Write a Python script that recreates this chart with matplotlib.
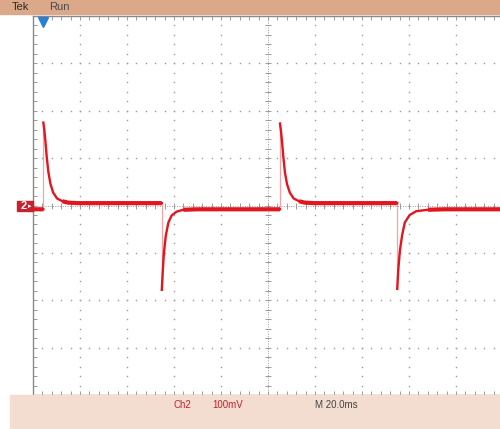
import matplotlib.pyplot as plt
from matplotlib.patches import Rectangle
import numpy as np

nan = np.nan

# scope trace, time in ms, voltage in mV (Ch2, 100 mV/div, 20 ms/div)
trace_ms = [
    0, 4.4, nan,
    4.4, 4.8, 5.3, 5.8, 6.5, 7.4, 8.6, 10.2, 12.5, 15.0, 19.0, 54.8, nan,
    54.8, 55.2, 55.7, 56.5, 57.6, 59.0, 61.1, 64.0, 70.0, 105.1, nan,
    105.1, 105.5, 106.0, 106.5, 107.2, 108.1, 109.3, 110.9, 113.2, 115.7, 119.7, 155.0, nan,
    155.0, 155.4, 156.1, 157.1, 158.2, 160.3, 163.1, 168.1, 175.0, 200.0,
]
trace_mv = [
    -8, -8, nan,
    175, 160, 135, 105, 72, 46, 27, 15, 9, 6, 5, 5, nan,
    -178, -140, -100, -64, -36, -21, -13, -9, -8, -8, nan,
    173, 158, 133, 104, 70, 45, 27, 15, 9, 6, 5, 5, nan,
    -176, -138, -96, -62, -36, -20, -12, -9, -8, -8,
]

# fast edges (drawn faint)
edge_ms = [4.4, 54.8, 105.1, 155.0]
edge_from_mv = [-8, 5, -8, 5]
edge_to_mv = [175, -178, 173, -176]

trigger_ms = 4.3

TAN = "#dba98a"
PANEL = "#f3ddd0"
GRID = "#9a9a9a"
RED = "#e2161e"

fig = plt.figure(figsize=(5, 4.29), dpi=100)
fig.patches.append(Rectangle((0, 1 - 14 / 429), 1, 14 / 429, transform=fig.transFigure,
                             color=TAN, zorder=0))
fig.patches.append(Rectangle((10 / 500, 0), 490 / 500, 34 / 429, transform=fig.transFigure,
                             color=PANEL, zorder=0))

ax = fig.add_axes([33 / 500, 34 / 429, 470 / 500, 379 / 429])
ax.set_xlim(0, 200)
ax.set_ylim(-400, 400)

for side in ["left", "bottom", "top"]:
    ax.spines[side].set_color("#8a8a8a")
    ax.spines[side].set_linewidth(1)
ax.spines["right"].set_visible(False)

ax.set_xticks(np.arange(0, 201, 4))
ax.set_yticks(np.arange(-400, 401, 20))
ax.tick_params(direction="in", length=3, width=0.7, color=GRID, top=True, right=False,
               labelbottom=False, labelleft=False)

# graticule dots
minor_x = np.arange(0, 201, 4)
minor_y = np.arange(-400, 401, 20)
for gx in range(20, 200, 20):
    if gx != 100:
        ax.plot(np.full(len(minor_y), gx), minor_y, ls="none", marker="s", ms=1.0,
                color=GRID, mew=0)
for gy in range(-300, 400, 100):
    if gy != 0:
        ax.plot(minor_x, np.full(len(minor_x), gy), ls="none", marker="s", ms=1.0,
                color=GRID, mew=0)

# center cross with ruler ticks
ax.axvline(100, color=GRID, lw=0.7, ls=(0, (1, 1.5)))
ax.axhline(0, color=GRID, lw=0.7, ls=(0, (1, 1.5)))
ax.plot(minor_x, np.zeros(len(minor_x)), ls="none", marker="|", ms=4, color=GRID, mew=0.7)
ax.plot(np.full(len(minor_y), 100), minor_y, ls="none", marker="_", ms=4, color=GRID, mew=0.7)

# trace: thin on the decays, thicker (noisy) on the settled parts
t = np.array(trace_ms)
v = np.array(trace_mv, dtype=float)
settled = np.where(np.abs(v) <= 10, v, nan)
ax.vlines(edge_ms, edge_from_mv, edge_to_mv, color="#f4a4a4", lw=0.9, zorder=3)
ax.plot(t, v, color=RED, lw=1.7, zorder=4)
ax.plot(t, settled, color=RED, lw=3.0, solid_capstyle="butt", zorder=4)

# trigger marker
ax.plot([trigger_ms], [388], marker="v", ms=7, color="#2a7fd6", clip_on=False, zorder=5)

# channel ground marker
fig.patches.append(Rectangle((17 / 500, 1 - 211 / 429), 16 / 500, 10 / 429,
                             transform=fig.transFigure, color="#c8202c", zorder=5))
fig.text(24 / 500, 1 - 206 / 429, "2", color="white", fontsize=8, fontweight="bold",
         ha="center", va="center", family="Liberation Sans", zorder=6)
fig.text(30 / 500, 1 - 206 / 429, "\u25b8", color="white", fontsize=5,
         ha="center", va="center", zorder=6)

fig.text(12 / 500, 1 - 7 / 429, "Tek", color="#2a2a2a", fontsize=8,
         va="center", family="Liberation Sans")
fig.text(49 / 500, 1 - 7 / 429, "Run", color="#4a4a4a", fontsize=8,
         va="center", family="Liberation Sans")

fig.text(173 / 500, 1 - 405 / 429, "Ch2", color="#c8202c", fontsize=7,
         va="center", family="Liberation Sans")
fig.text(212 / 500, 1 - 405 / 429, "100mV", color="#c8202c", fontsize=7,
         va="center", family="Liberation Sans")
fig.text(315 / 500, 1 - 405 / 429, "M 20.0ms", color="#444444", fontsize=7,
         va="center", family="Liberation Sans")

fig.savefig("out.png", dpi=100)
